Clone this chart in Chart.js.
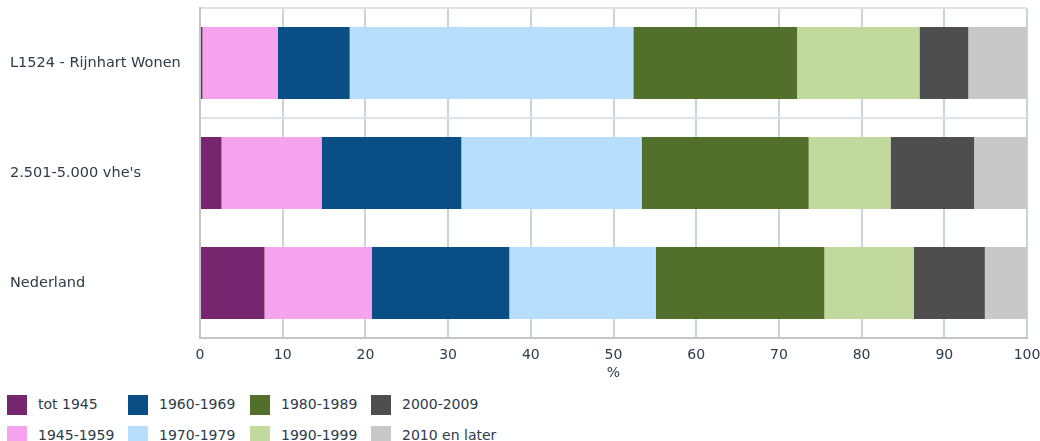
<!DOCTYPE html>
<html>
<head>
<meta charset="utf-8">
<script src="https://cdn.jsdelivr.net/npm/chart.js@4/dist/chart.umd.min.js"></script>
<style>
  body { margin: 0; background: #fff; font-family: "DejaVu Sans", Verdana, sans-serif; }
  #wrap { position: relative; width: 1040px; height: 441px; overflow: hidden; }
  #box { position: absolute; left: 0; top: 0; width: 1040px; height: 390px; }
  #legend { position: absolute; left: 0; top: 0; }
  .item { position: absolute; font-size: 14px; color: #2d3b4a; white-space: nowrap; }
  .item span { position: absolute; left: 0; top: 0; width: 20px; height: 20px; }
  .item b { position: absolute; left: 31px; top: 1px; font-weight: normal; }
</style>
</head>
<body>
<div id="wrap">
  <div id="box"><canvas id="c"></canvas></div>
  <div id="legend"></div>
</div>
<script>
const categories = ['L1524 - Rijnhart Wonen', "2.501-5.000 vhe's", 'Nederland'];
const periods = ['tot 1945', '1945-1959', '1960-1969', '1970-1979', '1980-1989', '1990-1999', '2000-2009', '2010 en later'];
const colors = ['#76266e', '#f5a3ee', '#0a4e86', '#b8defd', '#526f2c', '#c2d99d', '#4e4e4e', '#c8c8c8'];

// share per period, one value per category
const tot1945   = [0.3, 2.6, 7.8];
const p1945     = [9.1, 12.1, 13.0];
const p1960     = [8.7, 16.9, 16.6];
const p1970     = [34.3, 21.8, 17.7];
const p1980     = [19.8, 20.2, 20.4];
const p1990     = [14.8, 9.9, 10.8];
const p2000     = [5.9, 10.1, 8.6];
const p2010     = [7.1, 6.4, 5.1];
const series = [tot1945, p1945, p1960, p1970, p1980, p1990, p2000, p2010];

const txt = '#2d3b4a';

new Chart(document.getElementById('c'), {
  type: 'bar',
  data: {
    labels: categories,
    datasets: periods.map((p, i) => ({
      label: p,
      data: series[i],
      backgroundColor: colors[i],
      borderWidth: 0,
      categoryPercentage: 1,
      barPercentage: 0.655
    }))
  },
  options: {
    indexAxis: 'y',
    responsive: true,
    maintainAspectRatio: false,
    animation: false,
    layout: { padding: { top: 8, right: 13, bottom: 8, left: 10 } },
    plugins: { legend: { display: false }, tooltip: { enabled: false } },
    scales: {
      x: {
        stacked: true,
        min: 0, max: 100,
        ticks: { stepSize: 10, color: txt, padding: 9, font: { family: 'DejaVu Sans', size: 14 } },
        grid: { color: '#c8d5dd', lineWidth: 2, drawTicks: false },
        border: { color: '#c4c4c4', width: 2 },
        title: { display: true, text: '%', color: txt, padding: { top: 2, bottom: 0 }, font: { family: 'DejaVu Sans', size: 14 } },
        afterFit: s => { s.height = 44; s.paddingLeft = 0; s.paddingRight = 0; }
      },
      y: {
        stacked: true,
        ticks: { color: txt, crossAlign: 'far', padding: 0, font: { family: 'DejaVu Sans', size: 14.5 } },
        grid: {
          offset: true,
          drawTicks: false,
          color: ctx => (ctx.index === 1 || ctx.index === 0) ? '#dde3e8' : 'rgba(0,0,0,0)',
          lineWidth: 2
        },
        border: { color: '#c4c4c4', width: 2 },
        afterFit: s => { s.width = 190; s.paddingTop = 0; s.paddingBottom = 0; }
      }
    }
  }
});

// legend: 4 columns, 2 rows, filled column by column
const leg = document.getElementById('legend');
const colX = [7, 128, 250, 371];
const rowY = [395, 426];
periods.forEach((p, i) => {
  const d = document.createElement('div');
  d.className = 'item';
  d.style.left = colX[Math.floor(i / 2)] + 'px';
  d.style.top = rowY[i % 2] + 'px';
  d.innerHTML = '<span style="background:' + colors[i] + '"></span><b>' + p + '</b>';
  leg.appendChild(d);
});
</script>
</body>
</html>
